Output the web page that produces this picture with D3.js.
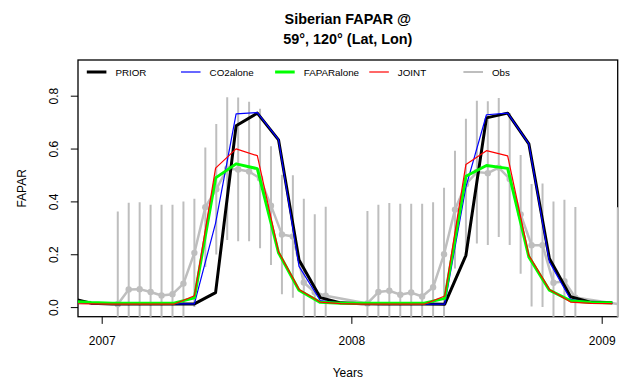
<!DOCTYPE html>
<html>
<head>
<meta charset="utf-8">
<script src="https://cdn.jsdelivr.net/npm/d3@7"></script>
<style>
body { margin: 0; background: #fff; }
svg { display: block; }
text { font-family: "Liberation Sans", Arial, sans-serif; fill: #000; }
</style>
</head>
<body>
<svg id="chart"></svg>
<script>
// monthly model output, Nov 2006 .. Jan 2009
var months = ["2006-11", "2006-12",
    "2007-01", "2007-02", "2007-03", "2007-04", "2007-05", "2007-06",
    "2007-07", "2007-08", "2007-09", "2007-10", "2007-11", "2007-12",
    "2008-01", "2008-02", "2008-03", "2008-04", "2008-05", "2008-06",
    "2008-07", "2008-08", "2008-09", "2008-10", "2008-11", "2008-12",
    "2009-01"]

var prior = [0.034, 0.015,
    0.012, 0.012, 0.012, 0.012, 0.012, 0.055, 0.686, 0.734, 0.633, 0.178, 0.036, 0.016,
    0.013, 0.012, 0.012, 0.012, 0.011, 0.196, 0.716, 0.734, 0.618, 0.184, 0.039, 0.018,
    0.016]
var co2alone = [0.020, 0.013,
    0.012, 0.012, 0.012, 0.012, 0.012, 0.318, 0.731, 0.736, 0.634, 0.154, 0.025, 0.015,
    0.012, 0.011, 0.011, 0.011, 0.011, 0.455, 0.728, 0.734, 0.618, 0.171, 0.029, 0.017,
    0.015]
var faparalone = [0.022, 0.017,
    0.015, 0.015, 0.015, 0.015, 0.035, 0.489, 0.542, 0.524, 0.206, 0.064, 0.018, 0.015,
    0.015, 0.015, 0.015, 0.015, 0.033, 0.495, 0.536, 0.525, 0.190, 0.064, 0.024, 0.017,
    0.016]
var joint = [0.013, 0.012,
    0.011, 0.011, 0.011, 0.011, 0.043, 0.526, 0.599, 0.573, 0.210, 0.067, 0.019, 0.013,
    0.011, 0.011, 0.011, 0.011, 0.042, 0.540, 0.592, 0.572, 0.196, 0.067, 0.019, 0.014,
    0.013]

// 16-day observations (day of year) with +/- sd
var obsDoy = [24, 40, 56, 72, 88, 104, 120, 136, 152, 168,
    184, 200, 216, 232, 248, 264, 280, 296, 312, 328]
var obs2007 = [0.011, 0.067, 0.068, 0.057, 0.044, 0.049, 0.089, 0.205, 0.378, 0.446,
    0.524, 0.521, 0.513, 0.487, 0.384, 0.275, 0.267, 0.093, 0.056, 0.043]
var sd2007 = [0.351, 0.328, 0.329, 0.330, 0.343, 0.338, 0.311, 0.205, 0.226, 0.247,
    0.270, 0.272, 0.264, 0.264, 0.225, 0.226, 0.232, 0.317, 0.295, 0.337]
var obs2008 = [0.014, 0.057, 0.062, 0.047, 0.055, 0.040, 0.075, 0.200, 0.369, 0.465,
    0.511, 0.507, 0.528, 0.485, 0.351, 0.234, 0.234, 0.092, 0.098, 0.036]
var sd2008 = [0.350, 0.330, 0.332, 0.344, 0.336, 0.351, 0.322, 0.252, 0.223, 0.248,
    0.270, 0.272, 0.263, 0.250, 0.225, 0.232, 0.234, 0.308, 0.308, 0.343]
var obs2009 = [0.012]
var sd2009 = [0.366]

var seriesNames = ["PRIOR", "CO2alone", "FAPARalone", "JOINT", "Obs"]
var yTicks = [0.0, 0.2, 0.4, 0.6, 0.8]
var xTicks = ["2007", "2008", "2009"]

var colors = {PRIOR: "#000000", CO2alone: "#0000ff", FAPARalone: "#00ff00", JOINT: "#ff0000", Obs: "#bebebe"}
var widths = {PRIOR: 3, CO2alone: 1.2, FAPARalone: 3, JOINT: 1.2, Obs: 2.5}

var parseMonth = d3.timeParse("%Y-%m")
function midMonth(s) {
    var d = parseMonth(s)
    return new Date(d.getFullYear(), d.getMonth(), 16, 12)
}
var monthDates = months.map(midMonth)

var obs = []
function addObs(year, vals, sds) {
    vals.forEach(function(v, i) {
        obs.push({date: new Date(year, 0, obsDoy[i], 12), v: v, sd: sds[i]})
    })
}
addObs(2007, obs2007, sd2007)
addObs(2008, obs2008, sd2008)
addObs(2009, obs2009, sd2009)

var models = [
    {name: "PRIOR", values: prior},
    {name: "CO2alone", values: co2alone},
    {name: "FAPARalone", values: faparalone},
    {name: "JOINT", values: joint}
]

var W = 625, H = 382
var box = {left: 78, right: 617.7, top: 60, bottom: 316.7}

var svg = d3.select("#chart").attr("width", W).attr("height", H)

var x = d3.scaleTime()
    .domain([new Date(2007, 0, 1), new Date(2009, 0, 1)])
    .range([101.7, 601.7])
var y = d3.scaleLinear()
    .domain([0, 0.8])
    .range([307.1, 95.7])

svg.append("defs").append("clipPath")
    .attr("id", "clip")
    .append("rect")
    .attr("x", box.left)
    .attr("y", box.top)
    .attr("width", box.right - box.left + 1.5)
    .attr("height", box.bottom - box.top)

// frame
svg.append("rect")
    .attr("x", box.left).attr("y", box.top)
    .attr("width", box.right - box.left)
    .attr("height", box.bottom - box.top)
    .attr("fill", "none")
    .attr("stroke", "#000")
    .attr("stroke-width", 1.3)

var plot = svg.append("g").attr("clip-path", "url(#clip)")

// obs error bars, line, points
plot.selectAll("line.err")
    .data(obs)
    .enter().append("line")
    .attr("class", "err")
    .attr("x1", function(d) { return x(d.date) })
    .attr("x2", function(d) { return x(d.date) })
    .attr("y1", function(d) { return y(d.v - d.sd) })
    .attr("y2", function(d) { return y(d.v + d.sd) })
    .attr("stroke", colors.Obs)
    .attr("stroke-width", 2)

var obsLine = d3.line()
    .x(function(d) { return x(d.date) })
    .y(function(d) { return y(d.v) })

plot.append("path")
    .datum(obs)
    .attr("d", obsLine)
    .attr("fill", "none")
    .attr("stroke", colors.Obs)
    .attr("stroke-width", widths.Obs)
    .attr("stroke-linejoin", "round")

// like R, symbols whose centre falls outside the plot region are dropped
plot.selectAll("circle.obs")
    .data(obs.filter(function(d) { return x(d.date) < box.right }))
    .enter().append("circle")
    .attr("class", "obs")
    .attr("cx", function(d) { return x(d.date) })
    .attr("cy", function(d) { return y(d.v) })
    .attr("r", 3.2)
    .attr("fill", colors.Obs)

// model lines
var line = d3.line()
    .x(function(d, i) { return x(monthDates[i]) })
    .y(function(d) { return y(d) })

models.forEach(function(m) {
    plot.append("path")
        .datum(m.values)
        .attr("d", line)
        .attr("fill", "none")
        .attr("stroke", colors[m.name])
        .attr("stroke-width", widths[m.name])
        .attr("stroke-linejoin", "round")
})

// axes
var yAxis = svg.append("g")
    .attr("transform", "translate(" + box.left + ",0)")
    .call(d3.axisLeft(y).tickValues(yTicks).tickFormat(d3.format(".1f")).tickSize(7.2))
yAxis.select(".domain").remove()
yAxis.selectAll("line").attr("stroke", "#000").attr("stroke-width", 1)
yAxis.selectAll("text")
    .attr("x", null).attr("dy", null)
    .attr("transform", "translate(-19.8,0) rotate(-90)")
    .attr("text-anchor", "middle")
    .attr("font-size", 12)
    .style("font-family", "'Liberation Sans', Arial, sans-serif")

var xAxis = svg.append("g")
    .attr("transform", "translate(0," + box.bottom + ")")
    .call(d3.axisBottom(x)
        .tickValues(xTicks.map(function(s) { return new Date(+s, 0, 1) }))
        .tickFormat(d3.timeFormat("%Y"))
        .tickSize(7.2))
xAxis.select(".domain").remove()
xAxis.selectAll("line").attr("stroke", "#000").attr("stroke-width", 1)
xAxis.selectAll("text")
    .attr("y", 28.8).attr("dy", null)
    .attr("font-size", 12)
    .style("font-family", "'Liberation Sans', Arial, sans-serif")

// titles
var cx = (box.left + box.right) / 2
svg.append("text")
    .attr("x", cx).attr("y", 24.2)
    .attr("text-anchor", "middle")
    .attr("font-size", 14.4).attr("font-weight", "bold")
    .text("Siberian FAPAR @")
svg.append("text")
    .attr("x", cx).attr("y", 43.6)
    .attr("text-anchor", "middle")
    .attr("font-size", 14.4).attr("font-weight", "bold")
    .text("59°, 120° (Lat, Lon)")

svg.append("text")
    .attr("x", cx).attr("y", 376.5)
    .attr("text-anchor", "middle")
    .attr("font-size", 12)
    .text("Years")
svg.append("text")
    .attr("transform", "translate(26," + ((box.top + box.bottom) / 2) + ") rotate(-90)")
    .attr("text-anchor", "middle")
    .attr("font-size", 12)
    .text("FAPAR")

// legend
var legend = svg.append("g")
    .selectAll("g")
    .data(seriesNames)
    .enter().append("g")
    .attr("transform", function(d, i) { return "translate(" + (115.4 + i * 94.15) + ",72)" })
legend.append("line")
    .attr("x1", -28.6).attr("x2", -9)
    .attr("y1", 0).attr("y2", 0)
    .attr("stroke", function(d) { return colors[d] })
    .attr("stroke-width", function(d) { return d == "Obs" ? 2 : widths[d] })
legend.append("text")
    .attr("x", 0).attr("y", 3.5)
    .attr("font-size", 9.8)
    .text(function(d) { return d })
</script>
</body>
</html>
